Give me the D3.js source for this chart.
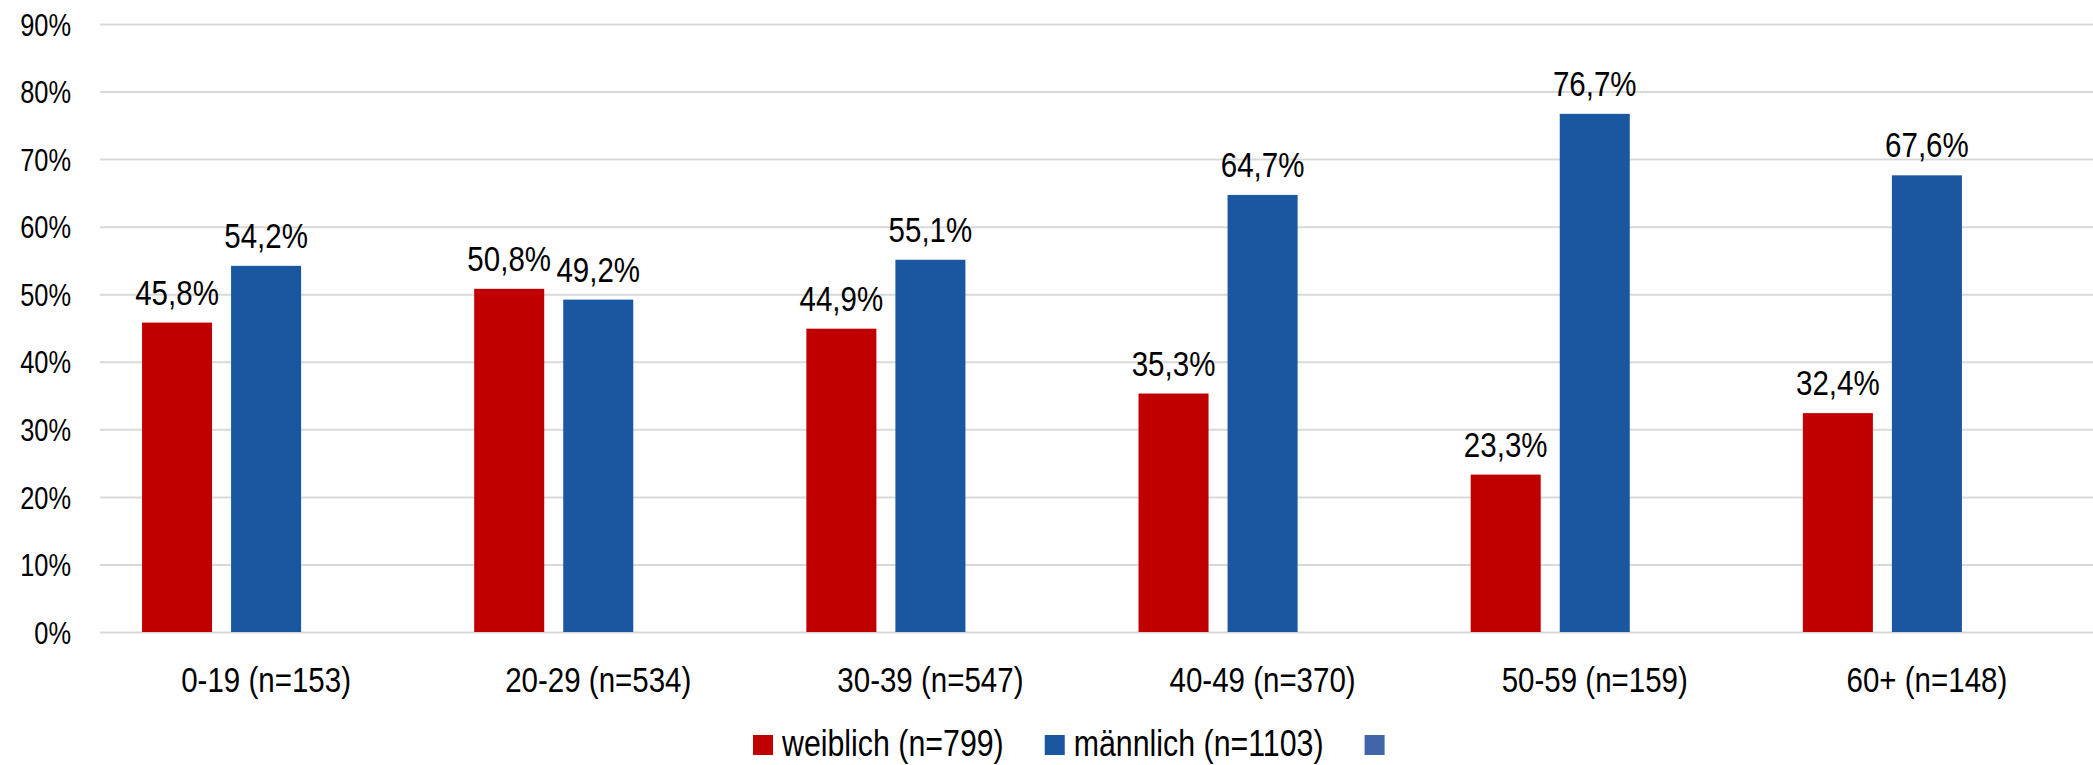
<!DOCTYPE html>
<html>
<head>
<meta charset="utf-8">
<script src="https://cdn.jsdelivr.net/npm/d3@7"></script>
<style>
  html, body { margin: 0; padding: 0; background: #fff; }
  svg text { font-family: 'Liberation Sans Narrow', 'Arial Narrow', 'Liberation Sans', Arial, sans-serif; fill: #000; }
</style>
</head>
<body>
<svg id="chart" width="2093" height="765"></svg>
<script>
const categories = ["0-19 (n=153)", "20-29 (n=534)", "30-39 (n=547)", "40-49 (n=370)", "50-59 (n=159)", "60+ (n=148)"];
const seriesNames = ["weiblich (n=799)", "männlich (n=1103)", ""];
const weiblich = [45.8, 50.8, 44.9, 35.3, 23.3, 32.4];
const maennlich = [54.2, 49.2, 55.1, 64.7, 76.7, 67.6];
const leer = [null, null, null, null, null, null];
const seriesColors = ["#C00000", "#1B57A0", "#4066A9"];
const yTicks = [0, 10, 20, 30, 40, 50, 60, 70, 80, 90];

const seriesValues = [weiblich, maennlich, leer];

const svg = d3.select("#chart");
const plotLeft = 100, plotRight = 2093, plotTop = 24, plotBottom = 632;

// detect whether a narrow face is installed
const narrowAvailable = (function () {
  const a = svg.append("text").attr("font-size", 100).style("font-family", "'Liberation Sans Narrow', 'Arial Narrow', 'Liberation Mono'").text("0123456789 weiblich");
  const b = svg.append("text").attr("font-size", 100).style("font-family", "'Liberation Mono'").text("0123456789 weiblich");
  const wa = a.node().getComputedTextLength(), wb = b.node().getComputedTextLength();
  a.remove(); b.remove();
  return Math.abs(wa - wb) > 1;
})();

const x0 = d3.scaleBand().domain(categories).range([plotLeft, plotRight]).paddingInner(0.253).paddingOuter(0.1265);
const x1 = d3.scaleBand().domain(d3.range(seriesNames.length)).range([0, x0.bandwidth()]).paddingInner(0.2135).paddingOuter(0);
const y = d3.scaleLinear().domain([0, 90]).range([plotBottom, plotTop]);

const squeeze = function (sel) {
  if (narrowAvailable) return;
  sel.each(function () {
    const t = d3.select(this);
    const ax = +t.attr("x") || 0;
    t.attr("transform", `translate(${ax},0) scale(0.82,1) translate(${-ax},0)`);
  });
};

// grid + y axis
const yAxis = d3.axisLeft(y).tickValues(yTicks).tickFormat(d => d + "%")
  .tickSize(-(plotRight - plotLeft)).tickPadding(29);
const gy = svg.append("g").attr("transform", `translate(${plotLeft},0)`).call(yAxis);
gy.select(".domain").remove();
gy.selectAll(".tick line").attr("stroke", "#d9d9d9").attr("stroke-width", 2);
gy.selectAll(".tick text").attr("font-size", 31).attr("dy", "0.36em").call(squeeze);

// bars
const groups = svg.append("g").selectAll("g").data(categories).join("g")
  .attr("transform", d => `translate(${x0(d)},0)`);

const barData = (c, i) => seriesValues.map((vals, s) => ({ s, v: vals[i] })).filter(d => d.v != null);

groups.each(function (c, i) {
  const g = d3.select(this);
  const data = barData(c, i);
  g.selectAll("rect").data(data).join("rect")
    .attr("x", d => x1(d.s))
    .attr("width", x1.bandwidth())
    .attr("y", d => y(d.v))
    .attr("height", d => y(0) - y(d.v))
    .attr("fill", d => seriesColors[d.s]);
  g.selectAll("text.val").data(data).join("text")
    .attr("class", "val")
    .attr("x", d => x1(d.s) + x1.bandwidth() / 2)
    .attr("y", d => y(d.v) - 18)
    .attr("text-anchor", "middle")
    .attr("font-size", 36)
    .text(d => d.v.toFixed(1).replace(".", ",") + "%")
    .call(squeeze);
});

// category labels
svg.append("g").selectAll("text").data(categories).join("text")
  .attr("x", d => x0(d) + x0.bandwidth() / 2)
  .attr("y", 692)
  .attr("text-anchor", "middle")
  .attr("font-size", 36)
  .text(d => d)
  .call(squeeze);

// legend
const legend = svg.append("g");
let lx = 753;
const k = narrowAvailable ? 1 : 0.82;
seriesNames.forEach((name, s) => {
  legend.append("rect").attr("x", lx).attr("y", 735).attr("width", 20).attr("height", 20).attr("fill", seriesColors[s]);
  lx += 29;
  const t = legend.append("text").attr("x", lx).attr("y", 756).attr("font-size", 37).text(name).call(squeeze);
  lx += t.node().getComputedTextLength() * k + 41;
});
</script>
</body>
</html>
